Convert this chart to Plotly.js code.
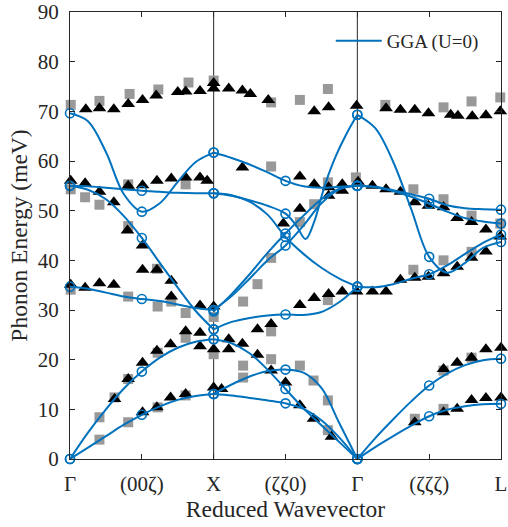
<!DOCTYPE html>
<html><head><meta charset="utf-8">
<script src="https://cdn.plot.ly/plotly-3.0.1.min.js"></script>
<style>html,body{margin:0;padding:0;background:#fff}#c{width:508px;height:527px}</style>
</head><body><div id="c"></div>
<script>
// ---- axis labels ----
const tickPos = [0,1,2,3,4,5,6];
const tickText = ['Γ','(00ζ)','X','(ζζ0)','Γ','(ζζζ)','L'];
const symPoints = [2,4];

// ---- GGA (U=0) calculated dispersion, Γ–X (00ζ) ----
const gridGX = [0,0.25,0.5,0.75,1,1.25,1.5,1.75,2];
const gxLO   = [69.6,68.0,61.8,53.3,49.8,51.5,55.8,59.8,61.7];
const gxR1   = [55.0,54.9,54.6,54.3,54.0,53.8,53.6,53.5,53.5];
const gxR2   = [55.0,54.2,52.3,48.9,44.5,39.5,34.5,29.8,26.1];
const gxTO   = [34.7,34.3,33.5,32.7,32.2,31.8,31.1,30.4,30.0];
const gxLA   = [0,5.3,10.0,14.2,17.6,20.4,22.4,23.6,24.1];
const gxTA   = [0,2.3,4.6,6.9,8.9,10.6,11.9,12.7,13.1];

// ---- X–Γ (ζζ0) ----
const gridXG = [2,2.25,2.5,2.75,3,3.25,3.5,3.75,4];
const xgB1   = [61.7,60.6,59.3,57.7,56.0,54.9,54.6,54.8,55.0];
const xgB3   = [30.0,32.8,36.3,40.0,43.0,47.0,51.5,54.3,55.0];
const xgB4   = [29.7,33.2,37.2,41.5,45.4,49.0,52.3,54.4,55.0];
const xgB5   = [53.5,53.1,51.8,49.2,44.7,41.3,38.5,36.3,34.7];
const xgB6   = [26.1,27.6,28.4,28.9,29.1,29.0,29.6,31.6,34.7];
const xgB7   = [24.1,23.3,21.3,18.0,14.1,10.2,6.8,3.4,0];
const xgB8   = [13.1,15.0,16.6,17.7,18.0,17.4,14.3,7.2,0];
const xgB9   = [13.1,12.8,12.3,11.8,11.2,10.1,7.8,4.3,0];
const xgLOx  = [2,2.25,2.5,2.75,3,3.15,3.28,3.4,3.5,3.6,3.7,3.85,4];
const xgLOy  = [53.5,53.0,52.1,51.0,49.4,47.0,44.3,47.8,52.8,57.3,61.0,65.5,69.3];

// ---- Γ–L (ζζζ) ----
const gridGL = [4,4.25,4.5,4.75,5,5.25,5.5,5.75,6];
const glLO   = [69.3,66.6,59.8,50.3,40.7,37.5,39.5,42.5,43.7];
const glR1   = [55.0,54.8,54.1,53.3,52.4,51.1,50.5,50.3,50.2];
const glR2   = [55.0,54.7,53.9,52.8,51.4,49.8,48.5,47.8,47.4];
const glTO   = [34.7,34.6,35.2,36.3,37.2,39.0,41.3,43.5,45.2];
const glLA   = [0,4.2,8.0,11.6,14.8,17.2,18.9,19.9,20.2];
const glTA   = [0,2.4,4.6,6.7,8.6,9.9,10.6,11.0,11.1];

// ---- experimental points: black triangles ----
const triX = [0.22,0.41,0.61,0.81,1.01,1.20,1.50,1.61,1.81,2.00,2.00,2.21,2.40,2.51,2.76,3.40,3.60,3.99,4.40,4.60,4.80,4.99,5.30,5.40,5.60,5.79,5.99,
 0.01,0.21,0.41,0.61,0.81,1.01,1.21,1.41,1.61,1.81,1.91,0.80,1.01,1.01,1.21,1.41,0.01,0.21,0.41,0.61,1.41,1.81,2.00,
 1.61,1.81,1.81,2.00,1.40,1.21,1.01,0.81,0.62,2.00,1.61,1.40,1.21,1.01,
 2.11,2.21,2.21,2.40,2.61,2.80,3.00,2.61,2.80,3.20,3.20,3.39,3.64,2.40,3.20,3.40,3.60,3.79,3.79,3.60,3.20,2.97,3.40,3.60,3.79,3.99,
 4.01,4.21,4.40,4.60,4.80,4.99,5.20,5.39,5.59,5.79,5.99,5.20,5.39,5.59,5.79,4.60,4.80,4.99,4.40,4.21,
 4.80,5.20,5.39,5.59,5.79,6.00,5.20,5.39,5.59,5.79,6.00];
const triY = [70.4,70.6,70.4,71.5,72.3,73.2,73.9,74.0,74.1,75.7,74.6,74.6,74.2,73.5,72.3,70.0,70.8,71.1,70.6,70.3,70.3,69.6,69.3,69.1,69.0,69.2,70.0,
 56.0,55.5,53.8,51.7,55.0,55.1,56.0,56.5,56.7,56.7,56.0,46.0,43.0,38.1,38.1,35.9,35.1,34.5,35.4,35.1,32.7,30.9,30.7,
 25.7,25.4,22.7,22.1,23.1,21.8,19.4,16.1,12.1,14.4,13.1,12.4,10.4,9.4,
 14.1,24.1,22.1,23.2,21.0,17.8,15.4,26.1,27.2,31.0,10.8,8.1,4.5,58.7,56.9,55.3,54.7,55.3,54.0,53.0,50.4,47.4,32.4,33.2,33.7,33.7,
 55.8,55.0,54.3,53.8,51.7,51.0,50.7,48.5,47.7,46.2,44.8,37.4,38.7,40.5,41.8,36.1,36.5,36.7,33.7,33.7,
 7.4,9.4,10.1,11.9,12.3,12.4,18.1,19.4,20.4,22.1,22.4];

// ---- experimental points: grey squares ----
const sqX = [0.01,0.41,0.83,1.23,1.65,2.00,2.80,3.20,3.59,4.39,5.20,5.59,5.99,
 0.01,0.21,0.41,0.81,1.61,0.81,1.21,0.01,0.81,1.22,1.41,1.61,2.00,1.61,2.00,1.22,0.81,0.62,0.41,0.41,0.81,1.22,1.61,
 2.41,2.41,2.80,2.80,3.20,3.39,3.59,3.59,2.80,3.20,3.40,3.59,3.98,2.80,2.61,2.41,3.59,
 4.78,5.20,5.59,5.99,4.78,5.20,5.59,4.80,5.20,5.20,5.59];
const sqY = [71.3,72.1,73.5,74.4,75.8,76.2,71.8,72.3,74.5,71.3,70.8,72.0,72.8,
 54.3,52.7,51.2,55.3,55.3,46.9,38.3,34.1,32.7,30.7,31.7,29.4,28.6,24.4,21.1,21.4,16.1,12.4,8.4,3.9,7.4,10.4,12.8,
 18.8,16.4,25.7,20.1,18.8,15.8,11.8,5.8,58.9,47.7,51.3,55.7,56.7,40.5,35.2,31.7,32.0,
 54.3,52.3,49.0,47.4,38.1,40.0,41.7,8.1,10.1,17.8,20.4];

// ---------------- build traces ----------------
const blue = '#0072BD';
const branches = [
  [gridGX,gxLO],[gridGX,gxR1],[gridGX,gxR2],[gridGX,gxTO],[gridGX,gxLA],[gridGX,gxTA],
  [gridXG,xgB1],[xgLOx,xgLOy],[gridXG,xgB3],[gridXG,xgB4],[gridXG,xgB5],[gridXG,xgB6],[gridXG,xgB7],[gridXG,xgB8],[gridXG,xgB9],
  [gridGL,glLO],[gridGL,glR1],[gridGL,glR2],[gridGL,glTO],[gridGL,glLA],[gridGL,glTA]
];
const traces = [];
traces.push({type:'scatter',mode:'markers',x:sqX,y:sqY,showlegend:false,cliponaxis:false,hoverinfo:'skip',
  marker:{symbol:'square',size:10,color:'#999999',line:{width:0}}});
traces.push({type:'scatter',mode:'markers',x:triX,y:triY,showlegend:false,cliponaxis:false,hoverinfo:'skip',
  marker:{symbol:'triangle-up',size:12,color:'#000000',line:{width:0}}});
const cx=[],cy=[];
branches.forEach((b,i)=>{
  traces.push({type:'scatter',mode:'lines',x:b[0],y:b[1],name:'GGA (U=0)',legendgroup:'g',showlegend:i===0,
    cliponaxis:false,hoverinfo:'skip',line:{color:blue,width:2,shape:'spline',smoothing:1}});
  b[0].forEach((xv,j)=>{ if (Math.abs(xv-Math.round(xv))<1e-9){cx.push(xv);cy.push(b[1][j]);} });
});
traces.push({type:'scatter',mode:'markers',x:cx,y:cy,showlegend:false,cliponaxis:false,hoverinfo:'skip',
  marker:{symbol:'circle-open',size:9,color:blue,line:{width:1.6,color:blue}}});

const axisCol = '#262626';
const fontFam = 'Liberation Serif, Times New Roman, serif';
const layout = {
  width:508,height:527,
  margin:{l:70,r:7,t:12,b:68},
  paper_bgcolor:'#fff',plot_bgcolor:'#fff',
  font:{family:fontFam,color:axisCol,size:21},
  showlegend:true,
  legend:{x:0.605,y:0.978,xanchor:'left',yanchor:'top',bgcolor:'rgba(0,0,0,0)',borderwidth:0,itemwidth:46,
    font:{family:fontFam,size:19,color:axisCol}},
  xaxis:{range:[0,6],tickvals:tickPos,ticktext:tickText,ticks:'inside',ticklen:5,tickcolor:axisCol,
    showline:true,linecolor:axisCol,linewidth:1,mirror:'ticks',showgrid:false,zeroline:false,ticklabeloverflow:'allow',
    tickfont:{size:21,family:fontFam,color:axisCol},ticklabelstandoff:6,
    title:{text:'Reduced Wavevector',font:{size:23.5,family:fontFam,color:axisCol},standoff:4}},
  yaxis:{range:[0,90],tickvals:[0,10,20,30,40,50,60,70,80,90],ticks:'inside',ticklen:5,tickcolor:axisCol,
    showline:true,linecolor:axisCol,linewidth:1,mirror:'ticks',showgrid:false,zeroline:false,ticklabeloverflow:'allow',
    tickfont:{size:21,family:fontFam,color:axisCol},ticklabelstandoff:6,
    title:{text:'Phonon Energy (meV)',font:{size:23.5,family:fontFam,color:axisCol},standoff:3}},
  shapes: symPoints.map(p=>({type:'line',xref:'x',yref:'paper',x0:p,x1:p,y0:0,y1:1,line:{color:axisCol,width:1},layer:'below'}))
};
Plotly.newPlot('c',traces,layout,{staticPlot:true,displayModeBar:false});
</script></body></html>
